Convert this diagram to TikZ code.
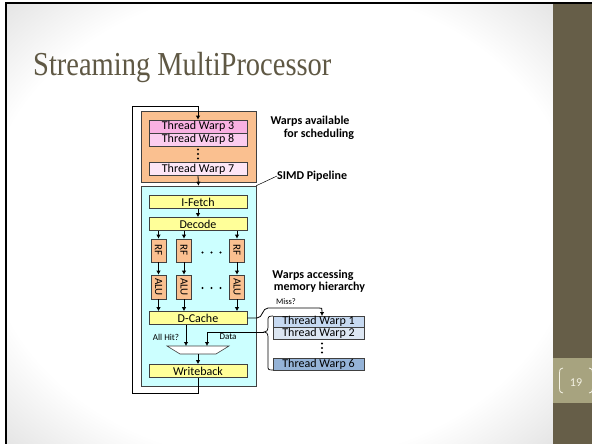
\documentclass[tikz,border=0pt]{standalone}
\usepackage{fontspec}
\setmainfont{Carlito}
\newfontfamily\titlefont{Liberation Serif}
\usetikzlibrary{arrows.meta}
\definecolor{panelcol}{HTML}{665E48}
\definecolor{bandcol}{HTML}{A7A37F}
\definecolor{titlecol}{HTML}{5F5844}
\definecolor{numcol}{HTML}{F4F2E4}
\definecolor{orangefill}{HTML}{FAC090}
\definecolor{cyanfill}{HTML}{CCFFFF}
\definecolor{yellowfill}{HTML}{FFFF99}
\definecolor{pinkA}{HTML}{F9B1E2}
\definecolor{pinkB}{HTML}{FBCDEF}
\definecolor{pinkC}{HTML}{FDE6F6}
\definecolor{blueA}{HTML}{C6D9F1}
\definecolor{blueB}{HTML}{DCE6F2}
\definecolor{blueC}{HTML}{95B3D7}
\definecolor{edgecol}{HTML}{404040}
\pgfdeclareradialshading{slidebg}{\pgfpoint{0bp}{0bp}}{color(0bp)=(white); color(27bp)=(white); color(36bp)=(black!11); color(50bp)=(black!11)}
\begin{document}
\begin{tikzpicture}[x=1pt,y=-1pt,
  box/.style={draw=edgecol, line width=0.6pt, inner sep=0pt, font=\fontsize{12}{12}\selectfont},
  twbox/.style={box, minimum width=98pt, minimum height=13pt},
  stagebox/.style={box, fill=yellowfill, minimum width=98pt, minimum height=13pt},
  blbox/.style={box, minimum width=91pt, minimum height=11.5pt},
  lanebox/.style={box, fill=orangefill, minimum width=15pt, font=\fontsize{11}{11}\selectfont},
  arr/.style={line width=0.8pt, -{Latex[length=4pt,width=4.5pt]}},
  lbl/.style={font=\bfseries\fontsize{12}{12}\selectfont, inner sep=0pt},
  small/.style={font=\fontsize{9}{9}\selectfont, inner sep=0pt},
  dot/.style={circle, fill=black, inner sep=0pt, minimum size=2.4pt}
]
\useasboundingbox (0,0) rectangle (592,444);
% slide background
\shade[shading=slidebg] (7,4) rectangle (553,444);
\fill[panelcol] (553,4) rectangle (592,444);
\fill[bandcol] (553,358) rectangle (592,403);
\draw[line width=2.2pt] (6,444) -- (6,3) -- (592,3);
% page number
\node[font=\fontsize{12}{12}\selectfont, text=numcol, inner sep=0pt] (pnum) at (576,383) {19};
\draw[numcol, line width=0.8pt] (563,368) .. controls (559.5,369) and (559.5,370) .. (559.5,373) -- (559.5,388) .. controls (559.5,391) and (559.5,392) .. (563,393);
\draw[numcol, line width=0.8pt] (589,368) .. controls (592.5,369) and (592.5,370) .. (592.5,373);
\draw[numcol, line width=0.8pt] (592.5,388) .. controls (592.5,391) and (592.5,392) .. (589,393);
% title
\node[font=\titlefont\fontsize{33.5}{33.5}\selectfont, text=titlecol, anchor=base west, inner sep=0pt] (title) at (33,76) {\scalebox{0.85}[1]{Streaming MultiProcessor}};

% big boxes
\node[box, fill=orangefill, minimum width=115pt, minimum height=71pt] (sched) at (198.5,146.5) {};
\node[box, fill=cyanfill, minimum width=115pt, minimum height=200pt] (simd) at (198.5,286) {};

% warps for scheduling
\node[twbox, fill=pinkA] (tw3) at (198,126.5) {Thread Warp 3};
\node[twbox, fill=pinkB] (tw8) at (198,139.5) {Thread Warp 8};
\node[twbox, fill=pinkC] (tw7) at (198,169) {Thread Warp 7};
\node[dot] (sd1) at (198,149.5) {};
\node[dot] (sd2) at (198,154) {};
\node[dot] (sd3) at (198,158.5) {};

% pipeline stages
\node[stagebox] (ifetch) at (198,202) {I-Fetch};
\node[stagebox] (decode) at (198,224) {Decode};
\node[lanebox, minimum height=23pt] (rf1) at (158.5,250.5) {\rotatebox{-90}{RF}};
\node[lanebox, minimum height=23pt] (rf2) at (184,250.5) {\rotatebox{-90}{RF}};
\node[lanebox, minimum height=23pt] (rf3) at (237,250.5) {\rotatebox{-90}{RF}};
\node[lanebox, minimum height=24pt] (alu1) at (158.5,287) {\rotatebox{-90}{ALU}};
\node[lanebox, minimum height=24pt] (alu2) at (184,287) {\rotatebox{-90}{ALU}};
\node[lanebox, minimum height=24pt] (alu3) at (237,287) {\rotatebox{-90}{ALU}};
\node[dot] (rd1) at (202.5,252.5) {};
\node[dot] (rd2) at (211.5,252.5) {};
\node[dot] (rd3) at (220.5,252.5) {};
\node[dot] (ad1) at (202.5,288) {};
\node[dot] (ad2) at (211.5,288) {};
\node[dot] (ad3) at (220.5,288) {};
\node[stagebox] (dcache) at (198,318) {D-Cache};
\node[stagebox] (wb) at (198,371) {Writeback};

% mux
\coordinate (muxTL) at (167,346);
\coordinate (muxTR) at (229,346);
\coordinate (muxBR) at (216,354);
\coordinate (muxBL) at (180,354);
\coordinate (muxin1) at (186,346);
\coordinate (muxin2) at (207,346);
\coordinate (muxout) at (198,354);
\draw[draw=edgecol, line width=0.6pt, fill=white] (muxTL) -- (muxTR) -- (muxBR) -- (muxBL) -- cycle;

% warps accessing memory
\node[blbox, fill=blueA] (tw1) at (318.5,321.7) {Thread Warp 1};
\node[blbox, fill=blueB] (tw2) at (318.5,333.2) {Thread Warp 2};
\node[blbox, fill=blueC] (tw6) at (318.5,364.2) {Thread Warp 6};
\node[dot] (md1) at (322,343.5) {};
\node[dot] (md2) at (322,348) {};
\node[dot] (md3) at (322,352.5) {};

% labels
\node[lbl] (lav1) at (310,121) {Warps available};
\node[lbl] (lav2) at (319,134) {for scheduling};
\node[lbl, anchor=west] (lsimd) at (277,176) {SIMD Pipeline};
\node[lbl] (lacc1) at (313,275) {Warps accessing};
\node[lbl] (lacc2) at (319.5,287.5) {memory hierarchy};
\node[font=\fontsize{8.5}{8.5}\selectfont, inner sep=0pt] (lmiss) at (286,301.5) {Miss?};
\node[small] (lhit) at (166,337) {All Hit?};
\node[small] (ldata) at (228,337) {Data};

% connectors
\coordinate (loopBL) at (132,393);
\coordinate (loopTL) at (132,106);
\draw[arr] (wb.south) |- (loopBL) -- (loopTL) -| (tw3.north);
\draw[arr] (tw7.south) -- (simd.north);
\draw[arr] (ifetch.south) -- (decode.north);
\foreach \i in {1,2,3}{
  \draw[arr] (decode.south -| rf\i.north) -- (rf\i.north);
  \draw[arr] (rf\i.south) -- (alu\i.north);
  \draw[arr] (alu\i.south) -- (dcache.north -| alu\i.south);
}
\draw[arr] (dcache.south -| muxin1) -- (muxin1);
\draw[arr] (muxout) -- (wb.north);
\draw[line width=0.5pt] (simd.north east) -- (lsimd.west);

% miss path
\coordinate (missin) at (322,316);
\draw[arr] (dcache.east) -- (257,318) .. controls (263,318) and (262,308) .. (268,308) -- (319,308) .. controls (322,308) .. (322,311) -- (missin);

% brace and data path
\coordinate (bracetip) at (264,332);
\draw[line width=0.7pt] (273,316) .. controls (268,316) and (268,317) .. (268,321) -- (268,327) .. controls (268,331) and (266,332) .. (bracetip) .. controls (266,332) and (268,333) .. (268,337) -- (268,366) .. controls (268,369.5) and (268,370) .. (273,370);
\draw[arr] (bracetip) -| (muxin2);
\end{tikzpicture}
\end{document}
